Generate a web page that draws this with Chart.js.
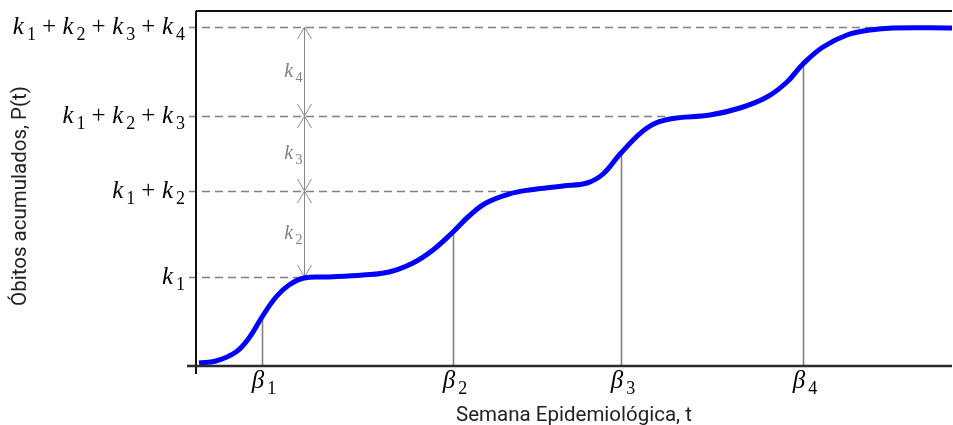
<!DOCTYPE html>
<html>
<head>
<meta charset="utf-8">
<script src="https://cdn.jsdelivr.net/npm/chart.js@4"></script>
<style>
  html, body { margin: 0; padding: 0; background: #fff; }
  canvas { display: block; }
</style>
</head>
<body>
<canvas id="chart" width="953" height="425"></canvas>
<script>
// cumulative curve (t: epidemiological week, arbitrary units)
const weeks  = [3, 20, 40, 53, 66, 80, 93, 108, 133, 167, 193, 217, 237, 257, 273, 290, 313, 333, 367, 391, 407, 425, 451, 474, 514, 544, 571, 591, 607, 627, 651, 674, 697, 757];
const deaths = [3, 5, 14, 28, 49, 69, 81, 88, 89, 91, 94, 103, 116, 134, 150, 163, 172, 176, 180, 183, 192, 213, 238, 247, 251, 258, 269, 284, 302, 319, 331, 336, 338, 338];

// plateau levels k1, k1+k2, k1+k2+k3, k1+k2+k3+k4
const kLevels = [89, 175, 250, 339];
// week where each dashed guide stops (meets the curve)
const levelEnds = [108, 316, 474, 694];
// inflection points beta_i and curve height there
const betas = [66, 257, 425, 607];
const betaHeights = [49, 134, 213, 302];
const arrowWeek = 108;

const GRAY = '#808080';

function mathItems(parts, size) {
  return parts.map(([txt, kind]) => {
    if (kind === 'i') return { txt, font: `italic ${size}px "Liberation Serif"`, dy: 0, pre: 0, post: size * 0.12 };
    if (kind === 's') return { txt, font: `${Math.round(size * 0.7)}px "Liberation Serif"`, dy: size * 0.25, pre: 0, post: 0 };
    return { txt, font: `${size}px "Liberation Serif"`, dy: 0, pre: size * 0.24, post: size * 0.26 };
  });
}

function drawMath(ctx, parts, x, y, size, color, align) {
  const items = mathItems(parts, size);
  let w = 0;
  items.forEach(it => {
    ctx.font = it.font;
    it.w = it.pre + ctx.measureText(it.txt).width + it.post;
    w += it.w;
  });
  let cx = align === 'right' ? x - w : align === 'center' ? x - w / 2 : x;
  ctx.fillStyle = color;
  ctx.textAlign = 'left';
  ctx.textBaseline = 'alphabetic';
  items.forEach(it => {
    ctx.font = it.font;
    ctx.fillText(it.txt, cx + it.pre, y + it.dy);
    cx += it.w;
  });
}

function levelParts(n) {
  const parts = [];
  for (let i = 1; i <= n; i++) {
    if (i > 1) parts.push(['+', 'o']);
    parts.push(['k', 'i'], [String(i), 's']);
  }
  return parts;
}

const guides = {
  id: 'guides',
  beforeDatasetsDraw(chart) {
    const { ctx, scales: { x, y } } = chart;
    ctx.save();

    // dashed guides from the axis to the curve
    ctx.strokeStyle = GRAY;
    ctx.lineWidth = 1.6;
    ctx.setLineDash([8, 5]);
    kLevels.forEach((k, i) => {
      const py = Math.round(y.getPixelForValue(k)) + 0.5;
      ctx.beginPath();
      ctx.moveTo(x.left - 7, py);
      ctx.lineTo(x.getPixelForValue(levelEnds[i]), py);
      ctx.stroke();
    });
    ctx.setLineDash([]);

    // vertical lines at the betas
    ctx.lineWidth = 1.6;
    betas.forEach((b, i) => {
      const px = Math.round(x.getPixelForValue(b)) + 0.5;
      ctx.beginPath();
      ctx.moveTo(px, y.bottom);
      ctx.lineTo(px, y.getPixelForValue(betaHeights[i]));
      ctx.stroke();
    });

    // double arrows between plateaus
    const ax = Math.round(x.getPixelForValue(arrowWeek)) + 0.5;
    ctx.strokeStyle = '#8a8a8a';
    ctx.lineWidth = 1;
    ctx.beginPath();
    ctx.moveTo(ax, y.getPixelForValue(kLevels[0]));
    ctx.lineTo(ax, y.getPixelForValue(kLevels[kLevels.length - 1]));
    ctx.stroke();
    for (let j = 0; j < kLevels.length - 1; j++) {
      const lo = y.getPixelForValue(kLevels[j]);
      const hi = y.getPixelForValue(kLevels[j + 1]);
      ctx.beginPath();
      ctx.moveTo(ax - 7, lo - 12); ctx.lineTo(ax, lo); ctx.lineTo(ax + 7, lo - 12);
      ctx.moveTo(ax - 7, hi + 12); ctx.lineTo(ax, hi); ctx.lineTo(ax + 7, hi + 12);
      ctx.stroke();
      drawMath(ctx, [['k', 'i'], [String(j + 2), 's']], ax - 2, (lo + hi) / 2 + 5, 20, GRAY, 'right');
    }
    ctx.restore();
  },
  afterDraw(chart) {
    const { ctx, scales: { x, y } } = chart;
    ctx.save();

    // frame: top border, y axis, x axis
    ctx.strokeStyle = '#111';
    ctx.lineWidth = 2;
    ctx.beginPath();
    ctx.moveTo(x.left, y.top);
    ctx.lineTo(x.right, y.top);
    ctx.moveTo(x.left, y.top);
    ctx.lineTo(x.left, y.bottom + 8);
    ctx.stroke();
    ctx.strokeStyle = '#2a2a2a';
    ctx.lineWidth = 2.5;
    ctx.beginPath();
    ctx.moveTo(x.left - 9, y.bottom);
    ctx.lineTo(x.right, y.bottom);
    ctx.stroke();

    // level labels on the y axis
    kLevels.forEach((k, i) => {
      drawMath(ctx, levelParts(i + 1), x.left - 11, y.getPixelForValue(k) + 7, 25, '#000', 'right');
    });

    // beta labels on the x axis
    betas.forEach((b, i) => {
      const px = x.getPixelForValue(b);
      drawMath(ctx, [['\u03B2', 'i'], [String(i + 1), 's']], px + 2, y.bottom + 22, 25, '#000', 'center');
    });

    // axis titles
    ctx.fillStyle = '#222';
    ctx.font = '20.5px Roboto';
    ctx.textAlign = 'center';
    ctx.textBaseline = 'alphabetic';
    ctx.fillText('Semana Epidemiológica, t', (x.left + x.right) / 2, 421);
    ctx.translate(26, 196);
    ctx.rotate(-Math.PI / 2);
    ctx.fillText('Óbitos acumulados, P(t)', 0, 0);
    ctx.restore();
  }
};

new Chart(document.getElementById('chart'), {
  type: 'line',
  data: {
    datasets: [{
      data: weeks.map((t, i) => ({ x: t, y: deaths[i] })),
      borderColor: '#0000ff',
      borderWidth: 5,
      pointRadius: 0,
      tension: 0.4,
      fill: false
    }]
  },
  options: {
    responsive: false,
    animation: false,
    devicePixelRatio: 1,
    events: [],
    layout: { padding: { left: 196, right: 1, top: 11, bottom: 59 } },
    plugins: { legend: { display: false }, tooltip: { enabled: false } },
    scales: {
      x: { type: 'linear', min: 0, max: 756, display: false },
      y: { min: 0, max: 355, display: false }
    }
  },
  plugins: [guides]
});
</script>
</body>
</html>
